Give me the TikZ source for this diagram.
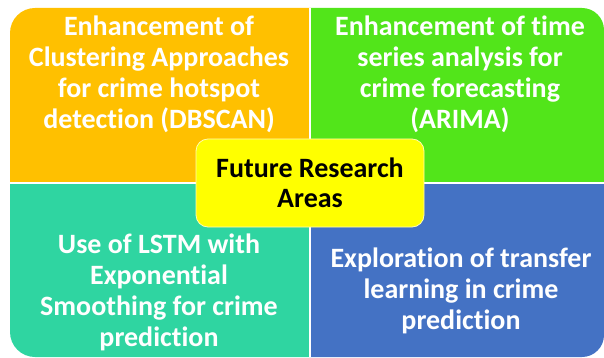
\documentclass[tikz,border=0pt]{standalone}
\usepackage{fontspec}
\setmainfont{Carlito}[Ligatures=NoCommon]
\definecolor{qorange}{RGB}{255,192,0}
\definecolor{qgreen}{RGB}{82,229,26}
\definecolor{qteal}{RGB}{47,213,161}
\definecolor{qblue}{RGB}{68,114,196}
\definecolor{qyellow}{RGB}{255,255,0}
\tikzset{
  qtext/.style={text=white, font=\fontsize{28}{31}\selectfont\bfseries, align=center, inner sep=0pt},
  ctext/.style={text=black, font=\fontsize{28}{30}\selectfont\bfseries, align=center},
  hub/.style={fill=qyellow, draw=white!70!yellow, line width=0.8pt, rounded corners=12pt, minimum width=228pt, minimum height=88pt, inner sep=0pt}
}
\begin{document}
\begin{tikzpicture}[x=1pt,y=-1pt]
\useasboundingbox (0,0) rectangle (604,358);
\begin{scope}
  \clip (0,0) rectangle (310,183);
  \fill[qorange, rounded corners=25pt] (10,8) rectangle (604,357);
\end{scope}
\begin{scope}
  \clip (310,0) rectangle (604,183);
  \fill[qgreen, rounded corners=22pt] (10,8) rectangle (604,357);
\end{scope}
\begin{scope}
  \clip (0,183) rectangle (310,358);
  \fill[qteal, rounded corners=25pt] (10,8) rectangle (604,357);
\end{scope}
\begin{scope}
  \clip (310,183) rectangle (604,358);
  \fill[qblue, rounded corners=22pt] (10,8) rectangle (604,357);
\end{scope}
\draw[white, line width=1.5pt] (310,8) -- (310,357);
\draw[white, line width=1.5pt] (10,183) -- (604,183);
\node[qtext] (tl) at (159,74) {Enhancement of\\Clustering Approaches\\for crime hotspot\\detection (DBSCAN)};
\node[qtext] (tr) at (460,74) {Enhancement of time\\series analysis for\\crime forecasting\\(ARIMA)};
\node[qtext] (bl) at (159,292) {Use of LSTM with\\Exponential\\Smoothing for crime\\prediction};
\node[qtext] (br) at (461,291) {Exploration of transfer\\learning in crime\\prediction};
\node[hub] (hubbox) at (310,183) {};
\node[ctext] (hublabel) at (310,183) {Future Research\\Areas};
\end{tikzpicture}
\end{document}
